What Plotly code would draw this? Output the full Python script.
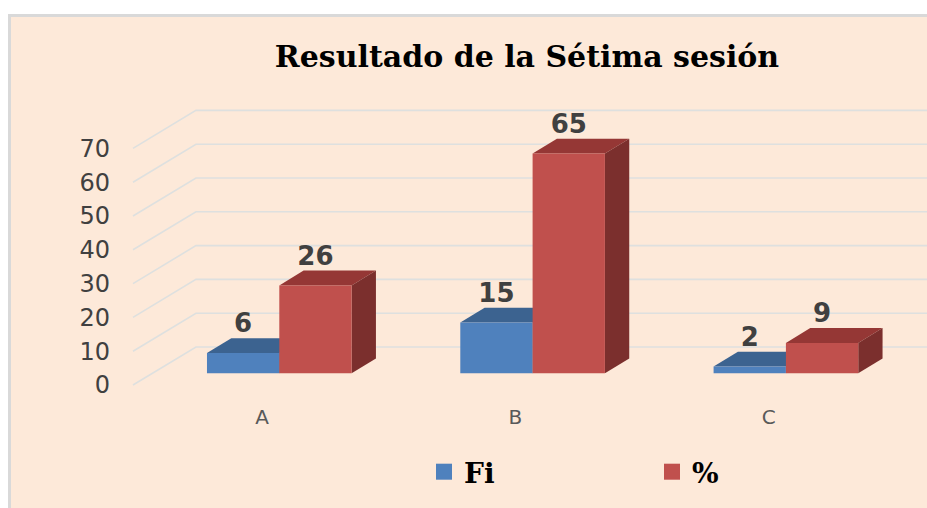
import plotly.graph_objects as go

categories = ["A", "B", "C"]
fi_values = [6, 15, 2]
pct_values = [26, 65, 9]
y_ticks = [0, 10, 20, 30, 40, 50, 60, 70]
series_names = ["Fi", "%"]
title_text = "Resultado de la Sétima sesión"

BLUE, BLUE_TOP, BLUE_SIDE = "#4F81BD", "#3C6390", "#34557C"
RED, RED_TOP, RED_SIDE = "#C0504D", "#953735", "#7B2F2D"
PANEL = "#FDE9D9"
GRID = "#DEE0DF"

W, H = 927, 508
ML, MT = 11, 17
PW, PH = W - ML, H - MT
X_RANGE = [-1.0592, 2.557]
SCALE = 3.38          # px per y unit
Y_RANGE_BARS = [(373.3 - H) / SCALE, (373.3 - MT) / SCALE]
Y_RANGE_WALL = [(385 - H) / SCALE, (385 - MT) / SCALE]

BAR_W = 0.2855
DEPTH_X, DEPTH_Y = 0.096, 4.4
WALL_X0, WALL_X1 = -0.5776, -0.329
WALL_DY = 11.24
LABEL_DY = 8.0
idx = list(range(len(categories)))

fig = go.Figure()

# perspective gridlines, on the wall axis
for i, v in enumerate(y_ticks):
    fig.add_trace(go.Scatter(
        x=[WALL_X0, WALL_X1, X_RANGE[1]], y=[v, v + WALL_DY, v + WALL_DY],
        mode="lines", line=dict(color=GRID, width=1.6), showlegend=False,
        hoverinfo="skip", xaxis="x", yaxis="y"))


def faces(values, offset, top, side):
    for i, v in zip(idx, values):
        x0, x1 = i + offset, i + offset + BAR_W
        fig.add_trace(go.Scatter(
            x=[x0, x1, x1 + DEPTH_X, x0 + DEPTH_X, x0],
            y=[v, v, v + DEPTH_Y, v + DEPTH_Y, v],
            fill="toself", fillcolor=top, mode="lines", line=dict(width=0, color=top),
            showlegend=False, hoverinfo="skip", xaxis="x", yaxis="y2"))
        fig.add_trace(go.Scatter(
            x=[x1, x1 + DEPTH_X, x1 + DEPTH_X, x1, x1],
            y=[0, DEPTH_Y, v + DEPTH_Y, v, 0],
            fill="toself", fillcolor=side, mode="lines", line=dict(width=0, color=side),
            showlegend=False, hoverinfo="skip", xaxis="x", yaxis="y2"))


faces(fi_values, -BAR_W, BLUE_TOP, BLUE_SIDE)
faces(pct_values, 0, RED_TOP, RED_SIDE)

# front faces
fig.add_trace(go.Bar(x=idx, y=fi_values, name=series_names[0], marker=dict(color=BLUE, line=dict(width=0)),
                     xaxis="x", yaxis="y3", offsetgroup="a", showlegend=False))
fig.add_trace(go.Bar(x=idx, y=pct_values, name=series_names[1], marker=dict(color=RED, line=dict(width=0)),
                     xaxis="x", yaxis="y3", offsetgroup="b", showlegend=False))

# legend entries (square swatches)
for name, colour in zip(series_names, (BLUE, RED)):
    fig.add_trace(go.Scatter(x=[None], y=[None], name=name, mode="markers",
                             marker=dict(symbol="square", size=16, color=colour, line=dict(width=0)),
                             xaxis="x", yaxis="y3"))

# value labels
for values, offset in ((fi_values, -BAR_W / 2), (pct_values, BAR_W / 2)):
    fig.add_trace(go.Scatter(
        x=[i + offset for i in idx], y=[v + LABEL_DY for v in values],
        mode="text", text=[str(v) for v in values],
        textposition="middle center",
        textfont=dict(family="DejaVu Sans", size=26, color="#404040", weight="bold"),
        showlegend=False, hoverinfo="skip", xaxis="x", yaxis="y3"))

hidden = dict(range=Y_RANGE_BARS, visible=False, overlaying="y", showgrid=False, zeroline=False, fixedrange=True)
fig.update_layout(
    width=W, height=H,
    autosize=False,
    margin=dict(l=ML, r=0, t=MT, b=0, pad=0, autoexpand=False),
    paper_bgcolor="#FFFFFF",
    plot_bgcolor="rgba(0,0,0,0)",
    barmode="group",
    bargap=1 - 2 * BAR_W,
    bargroupgap=0,
    title=dict(text="<b>" + title_text + "</b>", x=527 / W, xanchor="center", y=1 - 56 / H, yanchor="middle",
               font=dict(family="DejaVu Serif", size=30, color="#000000")),
    xaxis=dict(range=X_RANGE, tickmode="array", tickvals=[i - 0.068 for i in idx], ticktext=categories,
               showgrid=False, zeroline=False, showline=False, ticks="", anchor="free", position=(H - 403) / PH,
               tickfont=dict(family="DejaVu Sans", size=20, color="#595959"), fixedrange=True),
    yaxis=dict(range=Y_RANGE_WALL, tickmode="array", tickvals=y_ticks, showgrid=False, zeroline=False,
               showline=False, ticks="", anchor="free", position=(110 - ML) / PW, side="left",
               tickfont=dict(family="DejaVu Sans", size=24, color="#404040"), fixedrange=True),
    yaxis2=hidden,
    yaxis3=hidden,
    legend=dict(orientation="h", x=(424 - ML) / PW, xanchor="left", y=(H - 472) / PH, yanchor="middle",
                entrywidth=183, entrywidthmode="pixels", bgcolor="rgba(0,0,0,0)",
                font=dict(family="DejaVu Serif", size=28, color="#000000", weight="bold")),
    shapes=[dict(type="rect", xref="paper", yref="paper", layer="below",
                 x0=-3 / PW, x1=1.01, y0=-0.01, y1=1 + 3 / PH,
                 fillcolor="#D9D9D9", line=dict(width=0)),
            dict(type="rect", xref="paper", yref="paper", layer="below",
                 x0=0, x1=1.01, y0=-0.01, y1=1,
                 fillcolor=PANEL, line=dict(width=0))],
)
fig.write_html("out.html", config=dict(displayModeBar=False),
               post_script="document.body.style.margin='0';")
